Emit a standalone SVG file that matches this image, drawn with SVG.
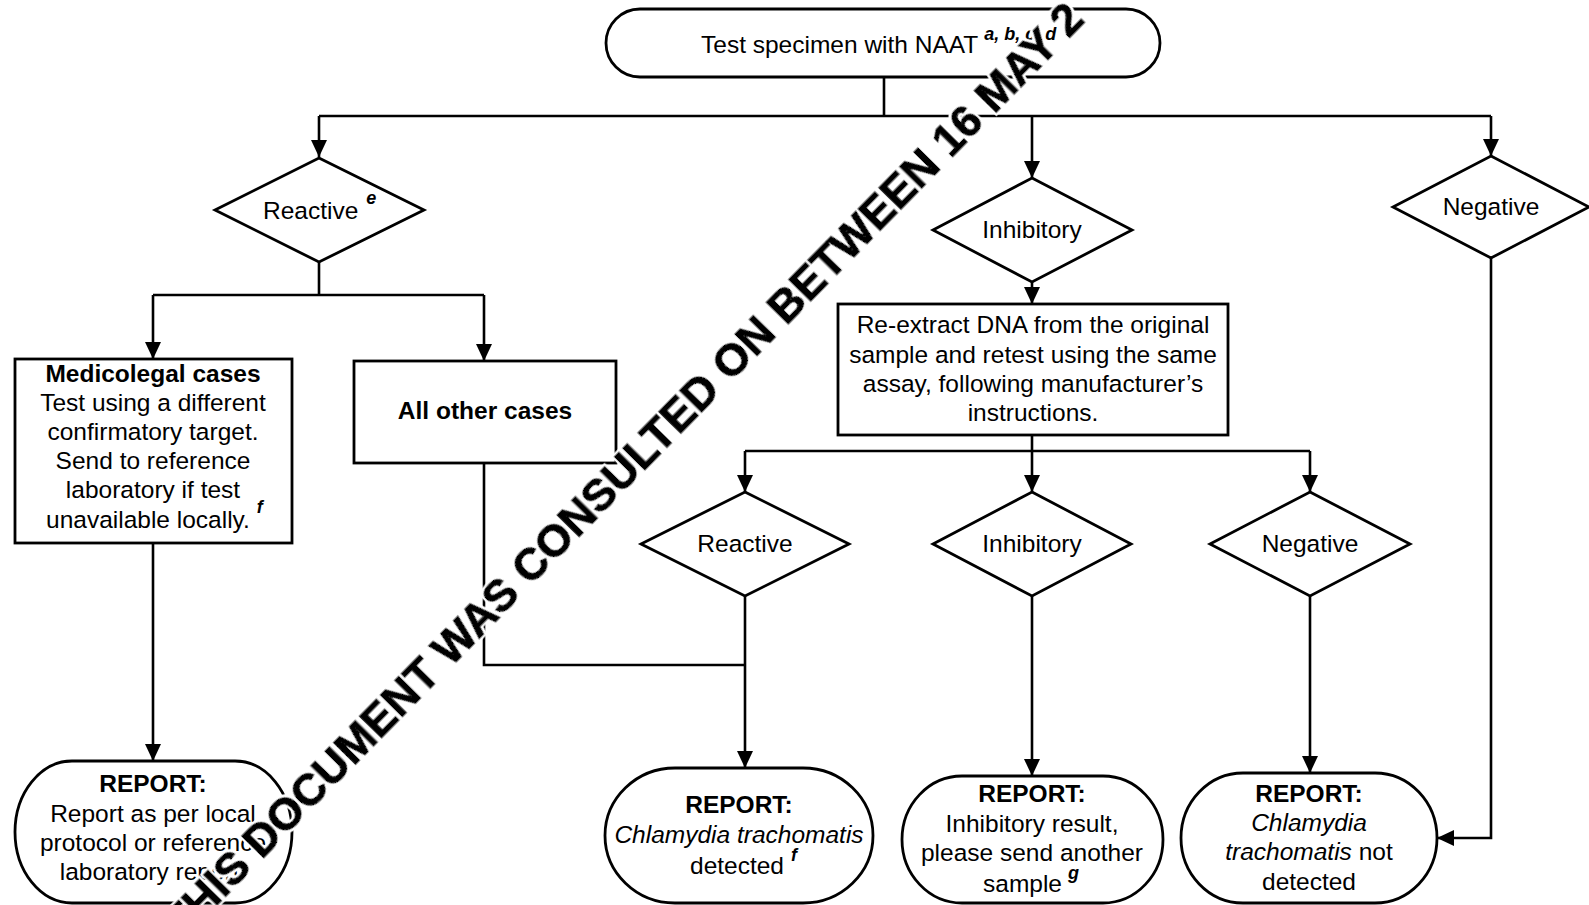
<svg xmlns="http://www.w3.org/2000/svg" width="1589" height="905" viewBox="0 0 1589 905">
<defs>
<marker id="ah" markerUnits="userSpaceOnUse" markerWidth="18" markerHeight="16" refX="17" refY="8" orient="auto">
<path d="M0,0 L17,8 L0,16 Z" fill="#000"/>
</marker>
<filter id="halo" x="-5%" y="-20%" width="110%" height="140%">
<feMorphology in="SourceAlpha" operator="dilate" radius="1.5" result="d"/>
<feFlood flood-color="#fff"/>
<feComposite in2="d" operator="in" result="w"/>
<feMerge><feMergeNode in="w"/><feMergeNode in="SourceGraphic"/></feMerge>
</filter>
<style>
.shape{fill:#fff;stroke:#000;stroke-width:2.8}
.conn{fill:none;stroke:#000;stroke-width:2.6}
.arr{fill:none;stroke:#000;stroke-width:2.6;marker-end:url(#ah)}
text{font-family:"Liberation Sans",Arial,sans-serif;font-size:24.5px;fill:#000}
.c{text-anchor:middle}
.b{font-weight:bold}
.i{font-style:italic}
.sup{font-size:18px;font-weight:bold;font-style:italic}
.wm{font-size:44.5px;font-weight:bold;stroke:#000;stroke-width:1.4;filter:url(#halo)}
</style>
</defs>
<rect width="1589" height="905" fill="#fff"/>

<g id="connectors">
<path class="conn" d="M884,77 V116 M319,116 H1491"/>
<path class="arr" d="M319,116 V157"/>
<path class="arr" d="M1032,116 V178"/>
<path class="arr" d="M1491,116 V156"/>
<path class="conn" d="M319,262 V295 M153,295 H484"/>
<path class="arr" d="M153,295 V359"/>
<path class="arr" d="M484,295 V361"/>
<path class="arr" d="M153,543 V761"/>
<path class="arr" d="M1032,282 V304"/>
<path class="conn" d="M1032,435 V451 M745,451 H1310"/>
<path class="arr" d="M745,451 V492"/>
<path class="arr" d="M1032,451 V492"/>
<path class="arr" d="M1310,451 V492"/>
<path class="conn" d="M484,463 V665 H745"/>
<path class="arr" d="M745,596 V768"/>
<path class="arr" d="M1032,596 V776"/>
<path class="arr" d="M1310,596 V773"/>
<path class="arr" d="M1491,258 V838 H1437"/>
</g>

<g id="start">
<rect class="shape" x="606" y="9" width="554" height="68" rx="34" ry="34"/>
<text x="701" y="53">Test specimen with NAAT<tspan class="sup" dx="6" dy="-13">a, b, c, d</tspan></text>
</g>

<g id="reactive1">
<polygon class="shape" points="319,158 424,210 319,262 215,210"/>
<text x="263" y="219">Reactive<tspan class="sup" dx="8" dy="-15">e</tspan></text>
</g>

<g id="inhibitory1">
<polygon class="shape" points="1032,178 1132,230 1032,282 933,230"/>
<text class="c" x="1032" y="238">Inhibitory</text>
</g>

<g id="negative1">
<polygon class="shape" points="1491,156 1589,207 1491,258 1393,207"/>
<text class="c" x="1491" y="215">Negative</text>
</g>

<g id="medicolegal">
<rect class="shape" x="15" y="359" width="277" height="184"/>
<text class="c b" x="153" y="382">Medicolegal cases</text>
<text class="c" x="153" y="411">Test using a different</text>
<text class="c" x="153" y="440">confirmatory target.</text>
<text class="c" x="153" y="469">Send to reference</text>
<text class="c" x="153" y="498">laboratory if test</text>
<text x="46" y="528">unavailable locally.<tspan class="sup" dx="7" dy="-15">f</tspan></text>
</g>

<g id="allother">
<rect class="shape" x="354" y="361" width="262" height="102"/>
<text class="c b" x="485" y="419">All other cases</text>
</g>

<g id="reextract">
<rect class="shape" x="838" y="304" width="390" height="131"/>
<text class="c" x="1033" y="333">Re-extract DNA from the original</text>
<text class="c" x="1033" y="363">sample and retest using the same</text>
<text class="c" x="1033" y="392">assay, following manufacturer’s</text>
<text class="c" x="1033" y="421">instructions.</text>
</g>

<g id="reactive2">
<polygon class="shape" points="745,492 849,544 745,596 641,544"/>
<text class="c" x="745" y="552">Reactive</text>
</g>

<g id="inhibitory2">
<polygon class="shape" points="1032,492 1131,544 1032,596 933,544"/>
<text class="c" x="1032" y="552">Inhibitory</text>
</g>

<g id="negative2">
<polygon class="shape" points="1310,492 1410,544 1310,596 1210,544"/>
<text class="c" x="1310" y="552">Negative</text>
</g>

<g id="report1">
<path class="shape" d="M72,761 H235 A57,71 0 0 1 235,903 H72 A57,71 0 0 1 72,761 Z"/>
<text class="c b" x="153" y="792">REPORT:</text>
<text class="c" x="153" y="822">Report as per local</text>
<text class="c" x="153" y="851">protocol or reference</text>
<text class="c" x="153" y="880">laboratory report.</text>
</g>

<g id="report2">
<path class="shape" d="M675,768 H803 A70,67.5 0 0 1 803,903 H675 A70,67.5 0 0 1 675,768 Z"/>
<text class="c b" x="739" y="813">REPORT:</text>
<text class="c i" x="739" y="843">Chlamydia trachomatis</text>
<text x="690" y="874">detected<tspan class="sup" dx="7" dy="-13">f</tspan></text>
</g>

<g id="report3">
<path class="shape" d="M962,776 H1103 A60,63.5 0 0 1 1103,903 H962 A60,63.5 0 0 1 962,776 Z"/>
<text class="c b" x="1032" y="802">REPORT:</text>
<text class="c" x="1032" y="832">Inhibitory result,</text>
<text class="c" x="1032" y="861">please send another</text>
<text x="983" y="892">sample<tspan class="sup" dx="6" dy="-13">g</tspan></text>
</g>

<g id="report4">
<path class="shape" d="M1243,773 H1375 A62,65 0 0 1 1375,903 H1243 A62,65 0 0 1 1243,773 Z"/>
<text class="c b" x="1309" y="802">REPORT:</text>
<text class="c i" x="1309" y="831">Chlamydia</text>
<text class="c" x="1309" y="860"><tspan class="i">trachomatis</tspan> not</text>
<text class="c" x="1309" y="890">detected</text>
</g>

<text class="wm" transform="translate(182,941) rotate(-45.5)">THIS DOCUMENT WAS CONSULTED ON BETWEEN 16 MAY 2</text>
</svg>
